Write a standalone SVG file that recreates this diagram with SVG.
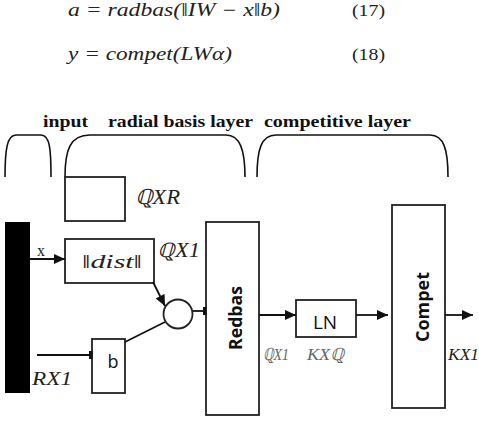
<svg xmlns="http://www.w3.org/2000/svg" width="479" height="422" viewBox="0 0 479 422">
<defs>
<marker id="arr" markerUnits="userSpaceOnUse" markerWidth="12" markerHeight="10" refX="11" refY="5" orient="auto">
<path d="M0,0 L11,5 L0,10 Z" fill="#111"/>
</marker>
<marker id="tee" markerUnits="userSpaceOnUse" markerWidth="4" markerHeight="10" refX="3" refY="5" orient="auto">
<rect x="0" y="1" width="3.5" height="8" fill="#111"/>
</marker>
<style>
.box{fill:#fff;stroke:#222;stroke-width:1.8}
.ln{fill:none;stroke:#111;stroke-width:1.8}
.br{fill:none;stroke:#111;stroke-width:1.6}
.math{font-family:"Liberation Serif","DejaVu Serif",serif;font-style:italic;fill:#222}
.num{font-family:"Liberation Serif",serif;fill:#222}
.head{font-family:"Liberation Serif","DejaVu Serif","Noto Serif",serif;font-weight:700;font-size:16px;fill:#111}
.sans{font-family:"Open Sans","Liberation Sans",sans-serif;fill:#111}
.gray{fill:#666}
</style>
</defs>

<g id="equations">
<text class="math" x="68" y="16" font-size="18" textLength="212" lengthAdjust="spacingAndGlyphs">a = radbas(‖IW − x‖b)</text>
<text class="num" x="352" y="16" font-size="17" textLength="33" lengthAdjust="spacingAndGlyphs">(17)</text>
<text class="math" x="68" y="60" font-size="18" textLength="164" lengthAdjust="spacingAndGlyphs">y = compet(LWα)</text>
<text class="num" x="352" y="60" font-size="17" textLength="33" lengthAdjust="spacingAndGlyphs">(18)</text>
</g>

<g id="headings">
<text class="head" x="43" y="127" textLength="45" lengthAdjust="spacingAndGlyphs">input</text>
<text class="head" x="108" y="127" textLength="145" lengthAdjust="spacingAndGlyphs">radial basis layer</text>
<text class="head" x="264" y="127" textLength="147" lengthAdjust="spacingAndGlyphs">competitive layer</text>
</g>

<g id="brackets">
<path class="br" d="M5,177 C5,150 7,135 16,135 L41,135 C50,135 51,150 51,177"/>
<path class="br" d="M65,177 C65,150 70,135 90,135 L226,135 C240,135 245,150 245,177"/>
<path class="br" d="M257,177 C257,150 261,135 276,135 L430,135 C444,135 448,150 448,177"/>
</g>

<g id="weight-box">
<rect class="box" x="65" y="177" width="60" height="44"/>
<text class="math" x="135" y="204" font-size="21" textLength="45" lengthAdjust="spacingAndGlyphs">ℚXR</text>
</g>

<g id="input-bar">
<rect x="5" y="222" width="25" height="171" fill="#000"/>
<text class="num" x="37" y="256" font-size="16">x</text>
<text class="math" x="32" y="385" font-size="19" textLength="40" lengthAdjust="spacingAndGlyphs">RX1</text>
</g>

<g id="dist">
<rect class="box" x="65" y="239" width="89" height="44"/>
<text class="math" x="112" y="268" font-size="18" text-anchor="middle" textLength="60" lengthAdjust="spacingAndGlyphs">‖dist‖</text>
<text class="math" x="157" y="257" font-size="20" textLength="43" lengthAdjust="spacingAndGlyphs">ℚX1</text>
</g>

<g id="sum">
<circle cx="178" cy="314" r="14.5" fill="#fff" stroke="#222" stroke-width="1.8"/>
</g>

<g id="bias">
<rect class="box" x="92" y="339" width="33" height="54"/>
<text class="sans" x="113" y="368" font-size="18" text-anchor="middle">b</text>
</g>

<g id="redbas">
<rect class="box" x="206" y="222" width="53" height="193"/>
<text class="sans" font-weight="bold" font-size="18" text-anchor="middle" transform="translate(242,318) rotate(-90)" textLength="64" lengthAdjust="spacingAndGlyphs">Redbas</text>
</g>

<g id="ln">
<rect class="box" x="296" y="300" width="60" height="37"/>
<text class="sans" x="325" y="329" font-size="19" text-anchor="middle">LN</text>
</g>

<g id="compet">
<rect class="box" x="392" y="205" width="53" height="203"/>
<text class="sans" font-weight="bold" font-size="18" text-anchor="middle" transform="translate(429,307) rotate(-90)" textLength="70" lengthAdjust="spacingAndGlyphs">Compet</text>
</g>

<g id="dim-labels">
<text class="math gray" x="263" y="360" font-size="17" textLength="26" lengthAdjust="spacingAndGlyphs">ℚX1</text>
<text class="math gray" x="307" y="360" font-size="17" textLength="37" lengthAdjust="spacingAndGlyphs">KXℚ</text>
<text class="math" x="448" y="360" font-size="17" textLength="31" lengthAdjust="spacingAndGlyphs">KX1</text>
</g>

<g id="connectors">
<line class="ln" x1="30" y1="259" x2="65" y2="259" marker-end="url(#arr)"/>
<line class="ln" x1="153" y1="282" x2="165" y2="306" marker-end="url(#arr)"/>
<line class="ln" x1="125" y1="342" x2="165" y2="322"/>
<line class="ln" x1="37" y1="355" x2="92" y2="355" marker-end="url(#tee)"/>
<line class="ln" x1="193" y1="311" x2="206" y2="311" marker-end="url(#tee)"/>
<line class="ln" x1="259" y1="315" x2="296" y2="315" marker-end="url(#arr)"/>
<line class="ln" x1="356" y1="315" x2="388" y2="315" marker-end="url(#arr)"/>
<line class="ln" x1="445" y1="315" x2="473" y2="315" marker-end="url(#arr)"/>
</g>
</svg>
